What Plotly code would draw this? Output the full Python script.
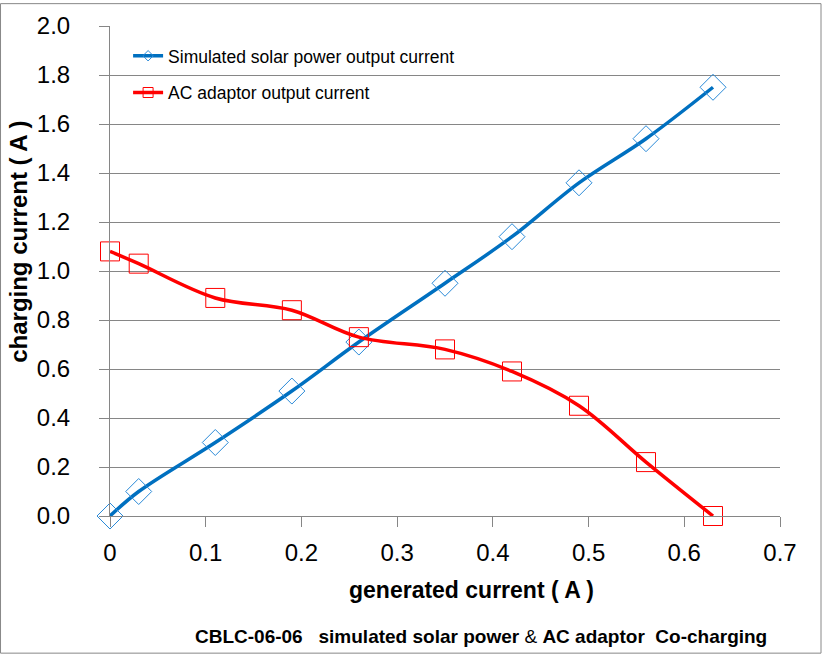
import plotly.graph_objects as go

x_gen = [0, 0.03, 0.11, 0.19, 0.26, 0.35, 0.42, 0.49, 0.56, 0.63]
solar_current = [0.0, 0.10, 0.30, 0.51, 0.71, 0.95, 1.14, 1.36, 1.54, 1.75]
ac_current = [1.08, 1.03, 0.89, 0.84, 0.73, 0.68, 0.59, 0.45, 0.22, 0.0]

x_tickvals = [0, 0.1, 0.2, 0.3, 0.4, 0.5, 0.6, 0.7]
x_ticktext = ["0", "0.1", "0.2", "0.3", "0.4", "0.5", "0.6", "0.7"]
y_tickvals = [0.0, 0.2, 0.4, 0.6, 0.8, 1.0, 1.2, 1.4, 1.6, 1.8, 2.0]

name_solar = "Simulated solar power output current"
name_ac = "AC adaptor output current"

BLUE = "#0070C0"
BLUE_M = "#2A8AD8"
RED = "#FF0000"
GRID = "#868686"
FONT = "Liberation Sans"

fig = go.Figure()

fig.add_trace(go.Scatter(
    x=x_gen, y=solar_current, mode="lines+markers", name=name_solar,
    line=dict(color=BLUE, width=3.5, shape="spline", smoothing=1),
    marker=dict(symbol="diamond-open", size=20, color=BLUE_M, line=dict(width=1, color=BLUE_M)),
    showlegend=False, cliponaxis=False))
fig.add_trace(go.Scatter(
    x=x_gen, y=ac_current, mode="lines+markers", name=name_ac,
    line=dict(color=RED, width=3.5, shape="spline", smoothing=1),
    marker=dict(symbol="square-open", size=19, color=RED, line=dict(width=1, color=RED)),
    showlegend=False, cliponaxis=False))

# legend-only entries with small markers
fig.add_trace(go.Scatter(
    x=[None], y=[None], mode="lines+markers", name=name_solar, legend="legend",
    line=dict(color=BLUE, width=3.5),
    marker=dict(symbol="diamond-open", size=8, color=BLUE_M, line=dict(width=1, color=BLUE_M))))
fig.add_trace(go.Scatter(
    x=[None], y=[None], mode="lines+markers", name=name_ac, legend="legend2",
    line=dict(color=RED, width=3.5),
    marker=dict(symbol="square-open", size=10, color=RED, line=dict(width=1, color=RED))))

fig.update_layout(
    width=822, height=655,
    margin=dict(l=110, r=42, t=23, b=139),
    paper_bgcolor="white", plot_bgcolor="white",
    font=dict(family=FONT, color="black"),
    legend=dict(x=0.027, y=0.939, xanchor="left", yanchor="middle",
                bgcolor="rgba(0,0,0,0)", font=dict(size=17.5, family=FONT)),
    legend2=dict(x=0.027, y=0.864, xanchor="left", yanchor="middle",
                 bgcolor="rgba(0,0,0,0)", font=dict(size=17.5, family=FONT)),
    xaxis=dict(range=[0, 0.7], tickvals=x_tickvals, ticktext=x_ticktext,
               showgrid=False, zeroline=False, showline=True, linecolor=GRID, linewidth=1,
               ticks="outside", ticklen=10, tickcolor=GRID, tickwidth=1,
               tickfont=dict(size=24, family=FONT), ticklabelstandoff=5),
    yaxis=dict(range=[0, 2.0], tickvals=y_tickvals, tickformat=".1f",
               showgrid=True, gridcolor=GRID, gridwidth=1, zeroline=False,
               showline=True, linecolor=GRID, linewidth=1,
               ticks="outside", ticklen=10, tickcolor=GRID, tickwidth=1,
               tickfont=dict(size=24, family=FONT), ticklabelstandoff=24),
)

fig.add_annotation(text="<b>generated current ( A )</b>", x=0.539, y=-0.152,
                   xref="paper", yref="paper", showarrow=False,
                   font=dict(size=23, family=FONT), xanchor="center", yanchor="middle")
fig.add_annotation(text="<b>charging current ( A )</b>", x=-0.137, y=0.56,
                   xref="paper", yref="paper", showarrow=False, textangle=-90,
                   font=dict(size=24, family=FONT), xanchor="center", yanchor="middle")
fig.add_annotation(text="<b>CBLC-06-06   simulated solar power</b> & <b>AC adaptor  Co-charging</b>",
                   x=0.554, y=-0.245, xref="paper", yref="paper", showarrow=False,
                   font=dict(size=19, family=FONT), xanchor="center", yanchor="middle")

fig.add_shape(type="rect", xref="paper", yref="paper",
              x0=-0.1634, x1=1.0612, y0=-0.2799, y1=1.0456,
              line=dict(color="#888888", width=1), fillcolor="rgba(0,0,0,0)", layer="below")

fig.write_html("out.html", config={"displayModeBar": False},
               post_script="document.body.style.margin='0px';")
